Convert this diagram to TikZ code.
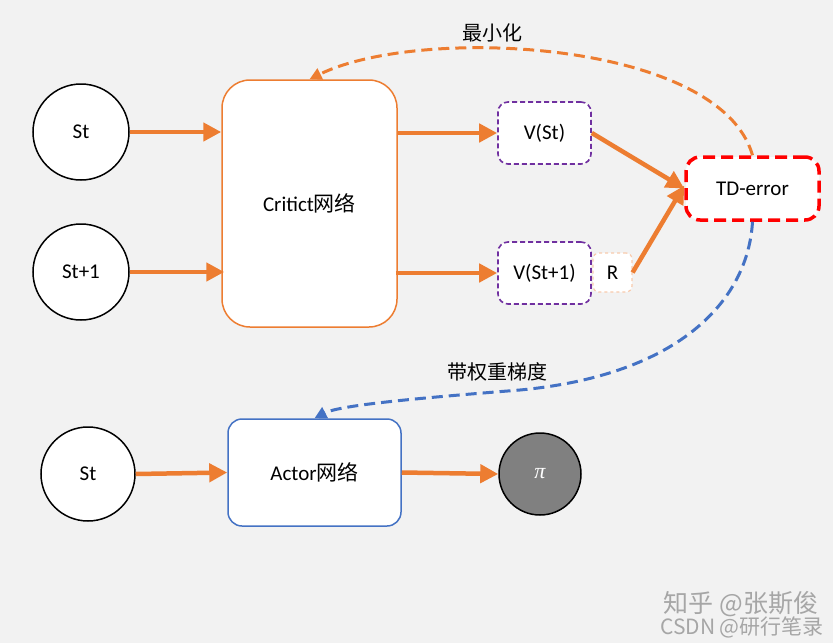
\documentclass[tikz,border=0pt]{standalone}
\usepackage{fontspec}
\usepackage{tikz}
\usetikzlibrary{arrows.meta}
\setmainfont{Carlito}
\newfontfamily\cjk{Noto Sans CJK SC}
\newfontfamily\grk{Liberation Serif}
\definecolor{bggray}{HTML}{F2F2F2}
\definecolor{acorange}{HTML}{ED7D31}
\definecolor{acpurple}{HTML}{7030A0}
\definecolor{acblue}{HTML}{4472C4}
\definecolor{acpeach}{HTML}{F8CBAD}

\begin{document}
\begin{tikzpicture}[x=1pt, y=-1pt,
        every node/.style={font=\fontsize{21}{24}\selectfont},
        state/.style={circle, draw, line width=1.5pt, fill=white, minimum size=96pt, inner sep=0pt},
        net/.style={draw, line width=1.5pt, fill=white, rounded corners=#1},
        value/.style={draw=acpurple, dashed, dash pattern=on 5pt off 3pt, line width=1.6pt, fill=white,
            rounded corners=10pt, minimum width=93pt, minimum height=62pt},
        flow/.style={draw=acorange, line width=4.5pt, -{Triangle[length=18pt,width=18pt]}},
        loop/.style={line width=3pt, dash pattern=on 11pt off 6pt, -{Triangle[length=12pt,width=12pt]}}]
        \useasboundingbox[fill=bggray] (0,0) rectangle (833,643);

        % inputs
        \node[state] (st1) at (81,132) {St};
        \node[state] (st2) at (81,272) {St+1};
        \node[state, minimum size=94pt] (st3) at (88,474) {St};

        % networks
        \node[net=28pt, draw=acorange, minimum width=175pt, minimum height=247pt] (crit) at (309.5,203.5) {Critict{\cjk 网络}};
        \node[net=14pt, draw=acblue, minimum width=173pt, minimum height=107pt] (actor) at (314.5,472.5) {Actor{\cjk 网络}};

        % values
        \node[value] (vst) at (544.5,133) {V(St)};
        \node[value] (vsn) at (544.5,273) {V(St+1)};
        \node[draw=acpeach, dashed, line width=1.2pt, fill=white, rounded corners=6pt,
            minimum size=39pt, inner sep=0pt] (rew) at (612.5,272.5) {R};
        \node[draw=red, line width=3.5pt, dash pattern=on 12pt off 6pt, fill=white, rounded corners=14pt,
            minimum width=133pt, minimum height=63pt] (td) at (752.5,188.5) {TD-error};

        % policy
        \node[state, fill=black!50, minimum size=82pt, text=white, font=\grk\itshape\fontsize{22}{24}\selectfont]
            (pol) at (540,474) {π};

        % arrows
        \draw[flow] (st1.east) -- (crit.west |- st1.east);
        \draw[flow] (st2.east) -- ([xshift=3pt]crit.west |- st2.east);
        \draw[flow] (crit.east |- vst.west) -- (vst.west);
        \draw[flow] ([xshift=-2pt]crit.east |- vsn.west) -- (vsn.west);
        \draw[flow] (vst.east) -- (td.west);
        \draw[flow] (rew.east) -- ([yshift=3pt]td.west);
        \draw[flow] (st3.east) -- (actor.west);
        \draw[flow] (actor.east) -- (pol.west);

        % feedback
        \draw[loop, acorange] (td.north) .. controls (720,40) and (420,25) .. (crit.north);
        \node[font=\cjk\fontsize{20}{24}\selectfont] (lbmin) at (492,33) {最小化};
        \coordinate (bend) at (520,390);
        \draw[loop, acblue] (td.south) .. controls (748,300) and (680,375) .. (bend)
            .. controls (420,398) and (340,405) .. (actor.north);
        \node[font=\cjk\fontsize{20}{24}\selectfont] (lbgrad) at (497,372) {带权重梯度};

        % watermark
        \node[text=black!35, font=\cjk\fontsize{25}{26}\selectfont] (wm1) at (741,604) {知乎 @张斯俊};
        \node[text=black!35, font=\cjk\fontsize{21}{24}\selectfont] (wm2) at (742,627) {CSDN @研行笔录};
\end{tikzpicture}
\end{document}
